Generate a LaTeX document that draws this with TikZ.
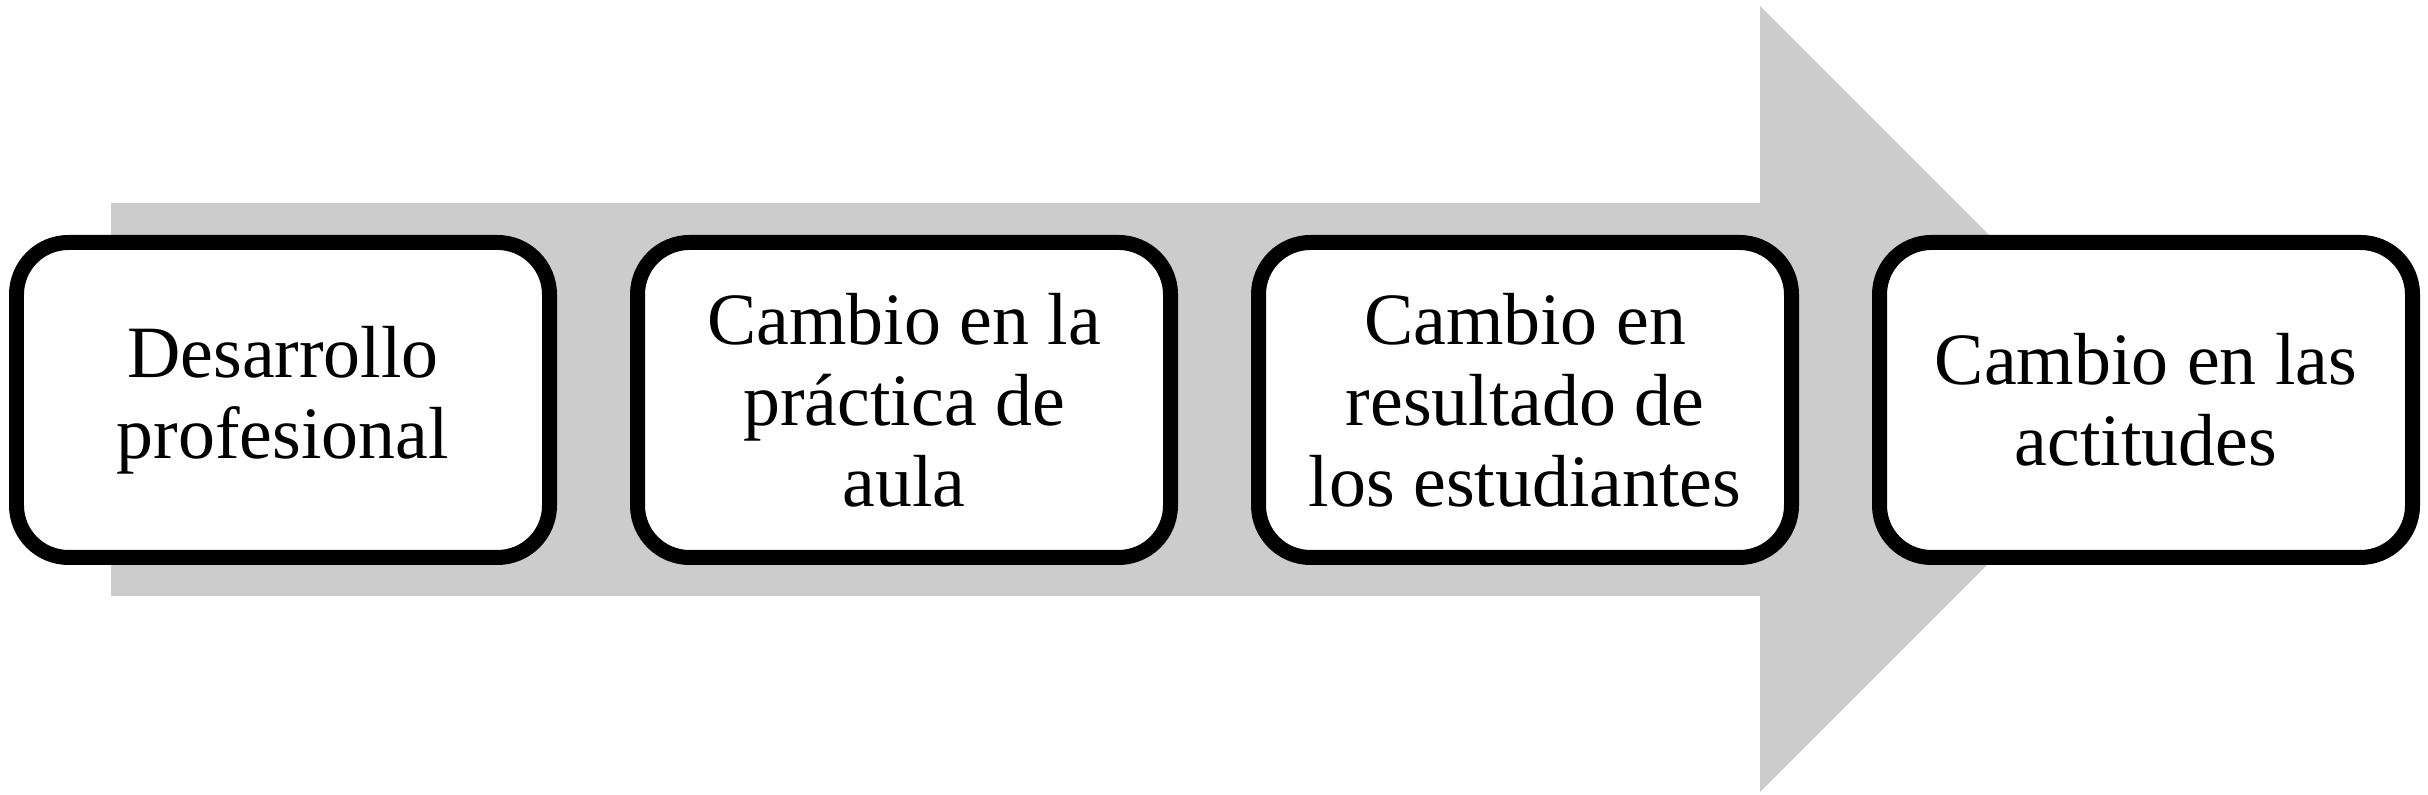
\documentclass[tikz,border=0pt]{standalone}
\usepackage{fontspec}
\setmainfont{Liberation Serif}
\usetikzlibrary{positioning}
\tikzset{kasten/.style={draw=black,line width=0.15cm,rounded corners=0.52cm,fill=white,
  minimum width=5.33cm,minimum height=3.15cm,outer sep=0pt,inner sep=0pt,align=center,
  font=\fontsize{21}{23}\selectfont}}
\begin{document}
\begin{tikzpicture}
\useasboundingbox (0,0) rectangle (24.28,7.95);
%Pfeil im Hintergrund
  \pgfmathsetmacro{\bandU}{1.99}
  \pgfmathsetmacro{\bandO}{5.92}
  \pgfmathsetmacro{\spitzeX}{17.60}
\fill[gray!40] (1.11,\bandU) -- (\spitzeX,\bandU) -- (\spitzeX,0.03) -- (21.53,3.96) -- (\spitzeX,7.89) -- (\spitzeX,\bandO) -- (1.11,\bandO) -- cycle;
%Kaesten
\node[kasten] (desarrollo) at (2.83,3.95) {Desarrollo\\profesional};
\node[kasten,right=0.88cm of desarrollo] (practica) {Cambio en la\\pr\'actica de\\aula};
\node[kasten,right=0.88cm of practica] (resultado) {Cambio en\\resultado de\\los estudiantes};
\node[kasten,right=0.88cm of resultado] (actitudes) {Cambio en las\\actitudes};
\end{tikzpicture}
\end{document}
